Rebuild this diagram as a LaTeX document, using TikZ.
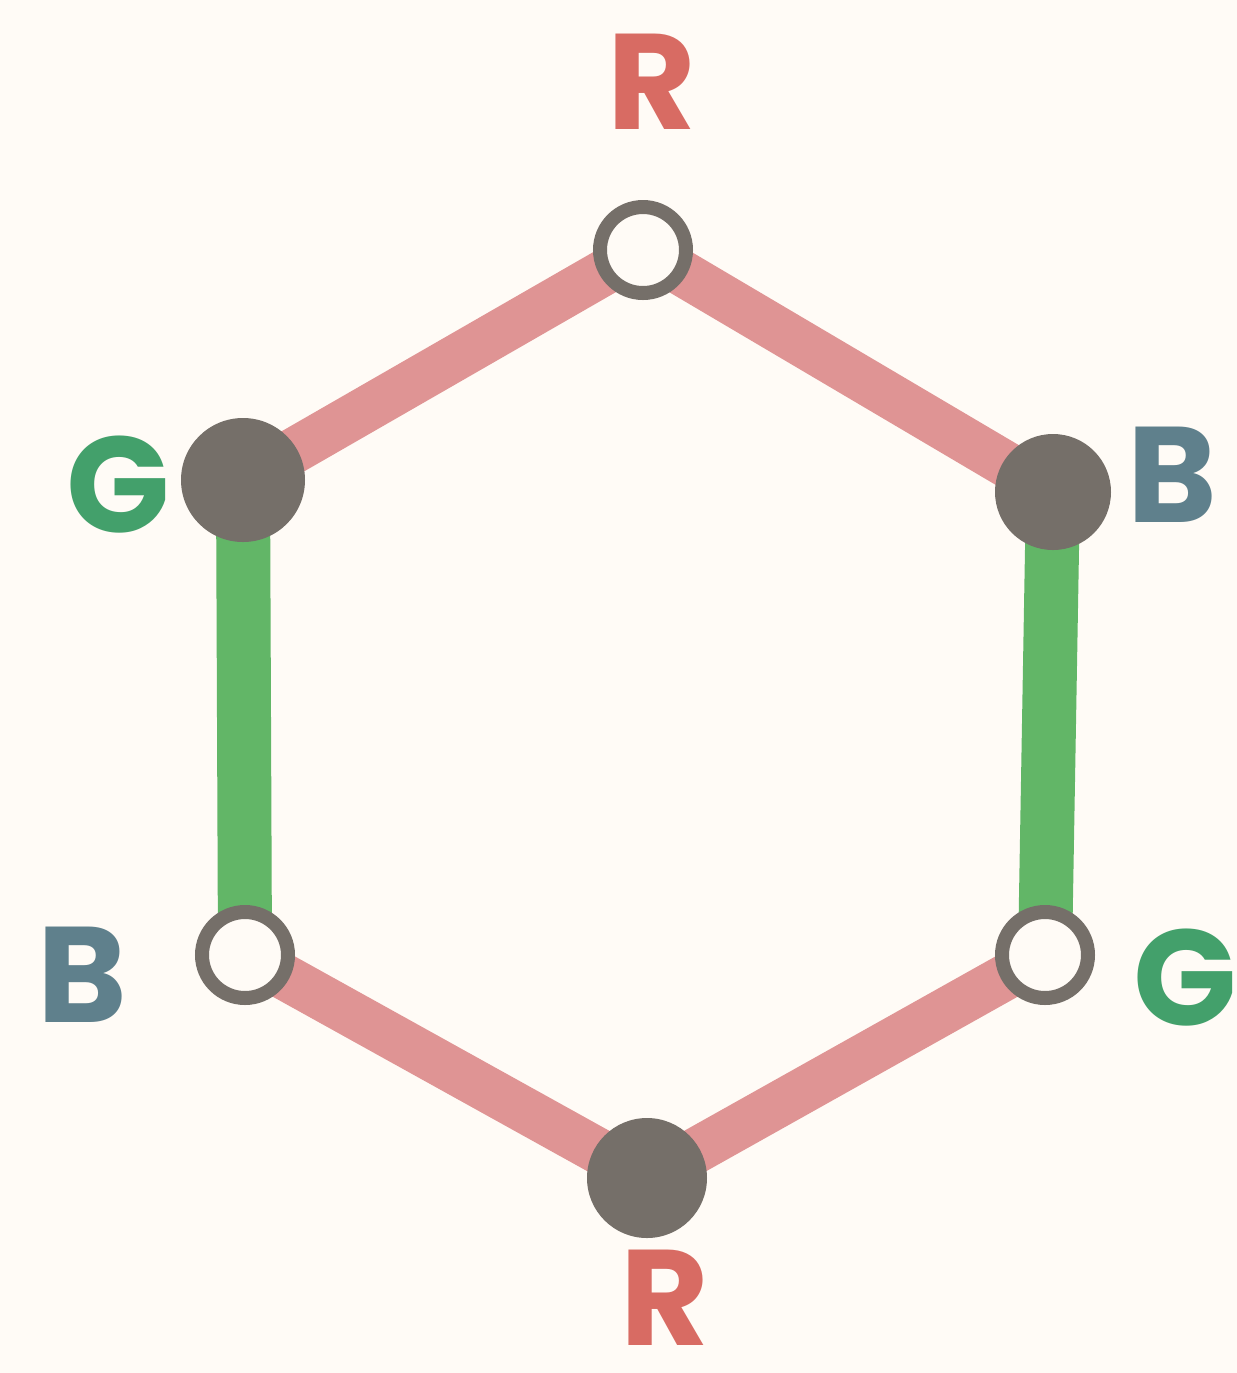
\documentclass[tikz,border=0pt]{standalone}
\usepackage{fontspec}
\setmainfont{Poppins}
\definecolor{bg}{HTML}{FFFBF6}
\definecolor{pinkedge}{HTML}{DF9494}
\definecolor{greenedge}{HTML}{62B667}
\definecolor{nodegray}{HTML}{756F69}
\definecolor{lblred}{HTML}{D86B63}
\definecolor{lblgreen}{HTML}{43A06B}
\definecolor{lblblue}{HTML}{5F808C}
\begin{document}
\begin{tikzpicture}[x=0.5pt,y=-0.5pt,
  filledv/.style={circle,fill=nodegray,minimum size=62pt,inner sep=0pt},
  hollowv/.style={circle,draw=nodegray,line width=7pt,fill=bg,minimum size=43pt,inner sep=0pt},
  redge/.style={pinkedge,line width=23pt,line cap=round},
  gedge/.style={greenedge,line width=27pt,line cap=round},
  lbl/.style={font=\fontsize{68}{68}\selectfont\bfseries,inner sep=0pt}]
\fill[bg] (0,0) rectangle (1237,1373);
\useasboundingbox (0,0) rectangle (1237,1373);
\coordinate (T) at (643,250);
\coordinate (LU) at (243,480);
\coordinate (RU) at (1053,492);
\coordinate (LL) at (245,955);
\coordinate (RL) at (1045,955);
\coordinate (B) at (647,1178);
\draw[redge] (T) -- (LU);
\draw[redge] (T) -- (RU);
\draw[redge] (LL) -- (B);
\draw[redge] (RL) -- (B);
\draw[gedge] (LU) -- (LL);
\draw[gedge] (RU) -- (RL);
\node[hollowv] (t) at (T) {};
\node[filledv] (lu) at (LU) {};
\node[filledv,minimum size=58pt] (ru) at (RU) {};
\node[hollowv] (ll) at (LL) {};
\node[hollowv] (rl) at (RL) {};
\node[filledv,minimum size=60pt] (b) at (B) {};
\node[lbl,text=lblred] (lt) at (652,82) {R};
\node[lbl,text=lblgreen] (llu) at (118,485) {G};
\node[lbl,text=lblblue] (lru) at (1172,475) {B};
\node[lbl,text=lblblue] (lll) at (82,975) {B};
\node[lbl,text=lblgreen] (lrl) at (1185,978) {G};
\node[lbl,text=lblred] (lb) at (665,1298) {R};
\end{tikzpicture}
\end{document}
